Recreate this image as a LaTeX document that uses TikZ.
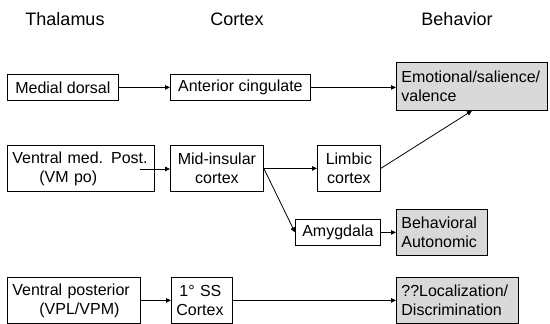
\documentclass[tikz,border=0pt]{standalone}
\usepackage{fontspec}
\setmainfont{Liberation Sans}
\usetikzlibrary{arrows.meta,calc}
\tikzset{
  box/.style={draw=black, line width=0.8pt, inner ysep=0pt, inner xsep=5pt, anchor=north west,
              font=\fontsize{16}{19}\selectfont},
  graybox/.style={box, fill=black!15},
  title/.style={font=\fontsize{18}{21}\selectfont, anchor=center},
  conn/.style={line width=0.8pt, -{Triangle[length=5pt,width=4.5pt]}}
}
\begin{document}
\begin{tikzpicture}[x=1pt,y=-1pt]
\useasboundingbox (0,0) rectangle (550,324);
% titles
\node[title] (tthal) at (65,19) {Thalamus};
\node[title] (tcort) at (237,19) {Cortex};
\node[title] (tbeh)  at (457,19) {Behavior};
% row 1
\node[box, minimum width=111pt, minimum height=26pt, align=center] (md) at (7,74) {Medial dorsal};
\node[box, minimum width=140pt, minimum height=26pt, align=center] (ac) at (170,74) {Anterior cingulate};
\node[graybox, text width=141pt, inner xsep=5pt, minimum height=48pt, align=left] (emo) at (396,62) {Emotional/salience/\\valence};
% row 2
\node[box, text width=137pt, minimum height=46pt, align=left] (vm) at (7,145) {Ventral med. Post.\\\hspace*{27pt}(VM po)};
\node[box, text width=83pt, minimum height=46pt, align=center] (mid) at (170,145) {Mid-insular\\cortex};
\node[box, text width=53pt, minimum height=46pt, align=center] (lim) at (317,145) {Limbic\\cortex};
\node[box, text width=75pt, minimum height=26pt, align=center] (amy) at (295,219) {Amygdala};
\node[graybox, text width=81pt, minimum height=46pt, align=left] (beh) at (396,209) {Behavioral\\Autonomic};
% row 3
\node[box, text width=123pt, minimum height=46pt, align=left] (vp) at (7,277) {Ventral posterior\\\hspace*{27pt}(VPL/VPM)};
\node[box, text width=51pt, minimum height=46pt, align=left] (ss) at (171,277) {\hspace*{3pt}1° SS\\Cortex};
\node[graybox, text width=112pt, minimum height=46pt, align=left] (loc) at (396,277) {??Localization/\\Discrimination};
% connectors
\coordinate (vmtip) at (140,169);
\draw[conn] (md.east) -- (ac.west);
\draw[conn] (ac.east) -- (ac.east -| emo.west);
\draw[conn] (vmtip) -- (vmtip -| mid.west);
\draw[conn] (mid.east) -- (mid.east -| lim.west);
\draw[conn] (lim.east) -- (emo.south);
\draw[conn] (mid.east) -- (amy.west);
\draw[conn] (amy.east) -- (amy.east -| beh.west);
\draw[conn] (vp.east) -- (ss.west);
\draw[conn] (ss.east) -- (ss.east -| loc.west);
\end{tikzpicture}
\end{document}
